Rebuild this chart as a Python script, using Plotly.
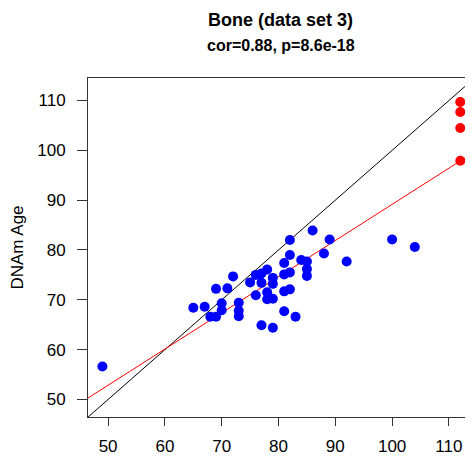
import numpy as np
import plotly.graph_objects as go

# Blue points: chronological age vs DNAm age
blue_x = [49, 65, 67, 68, 69, 69, 70, 70, 71, 72, 73, 73, 73, 75, 76, 76, 77, 77, 77,
          78, 78, 78, 79, 79, 79, 79, 81, 81, 81, 81, 82, 82, 82, 82, 83, 84, 85, 85,
          85, 86, 88, 89, 92, 100, 104]
blue_y = [56.6, 68.4, 68.6, 66.6, 66.6, 72.2, 69.3, 67.9, 72.3, 74.7, 69.4, 67.8, 66.7,
          73.5, 75.0, 70.9, 75.3, 73.4, 64.9, 76.1, 71.5, 70.1, 74.4, 73.2, 70.2, 64.4,
          77.4, 75.1, 71.7, 67.7, 82.0, 79.0, 75.5, 72.1, 66.6, 78.0, 77.7, 76.2, 74.8,
          83.9, 79.3, 82.1, 77.7, 82.1, 80.6]
# Red points
red_x = [112, 112, 112, 112]
red_y = [109.7, 107.7, 104.5, 97.9]

x_ticks = [50, 60, 70, 80, 90, 100, 110]
y_ticks = [50, 60, 70, 80, 90, 100, 110]

title_main = "Bone (data set 3)"
title_sub = "cor=0.88, p=8.6e-18"

xr = [46.46, 114.24]
yr = [46.48, 114.52]

all_x = np.array(blue_x + red_x, dtype=float)
all_y = np.array(blue_y + red_y, dtype=float)
slope, intercept = np.polyfit(all_x, all_y, 1)

fig = go.Figure()
fig.add_trace(go.Scatter(x=xr, y=xr, mode="lines",
                         line=dict(color="black", width=1), hoverinfo="skip"))
fig.add_trace(go.Scatter(x=xr, y=[intercept + slope * v for v in xr], mode="lines",
                         line=dict(color="#ff0000", width=1), hoverinfo="skip"))
fig.add_trace(go.Scatter(x=blue_x, y=blue_y, mode="markers",
                         marker=dict(color="#0000ff", size=10, line=dict(width=0))))
fig.add_trace(go.Scatter(x=red_x, y=red_y, mode="markers",
                         marker=dict(color="#ff0000", size=10, line=dict(width=0))))

# page body has an 8px margin, so the figure is drawn 8px in from the top-left
W, H = 465, 448
ML, MT, MB = 80, 70, 39
plot_h = H - MT - MB
font = "Liberation Sans, Arial, sans-serif"
fig.update_layout(
    width=W, height=H,
    margin=dict(l=ML, r=0, t=MT, b=MB, autoexpand=False),
    paper_bgcolor="white", plot_bgcolor="white",
    showlegend=False,
    font=dict(family=font, size=17, color="black"),
    annotations=[
        dict(text="<b>" + title_main + "</b>", x=0.5, xref="paper", yref="paper",
             y=1 + (MT - 12) / plot_h, yanchor="middle",
             showarrow=False, font=dict(size=18)),
        dict(text="<b>" + title_sub + "</b>", x=0.5, xref="paper", yref="paper",
             y=1 + (MT - 37) / plot_h, yanchor="middle",
             showarrow=False, font=dict(size=16)),
    ],
)

fig.update_xaxes(range=xr, tickmode="array", tickvals=x_ticks,
                 ticktext=[str(v) for v in x_ticks],
                 showgrid=False, zeroline=False, showline=True, linecolor="#333",
                 linewidth=1, mirror=True, ticks="outside", ticklen=8,
                 tickcolor="#333", ticklabelstandoff=6)
fig.update_yaxes(range=yr, tickmode="array", tickvals=y_ticks,
                 ticktext=[str(v) for v in y_ticks],
                 showgrid=False, zeroline=False, showline=True, linecolor="#333",
                 linewidth=1, mirror=False, ticks="outside", ticklen=10,
                 tickcolor="#333", ticklabelstandoff=8,
                 title=dict(text="DNAm Age", font=dict(size=17), standoff=10))

fig.write_html("out.html")
